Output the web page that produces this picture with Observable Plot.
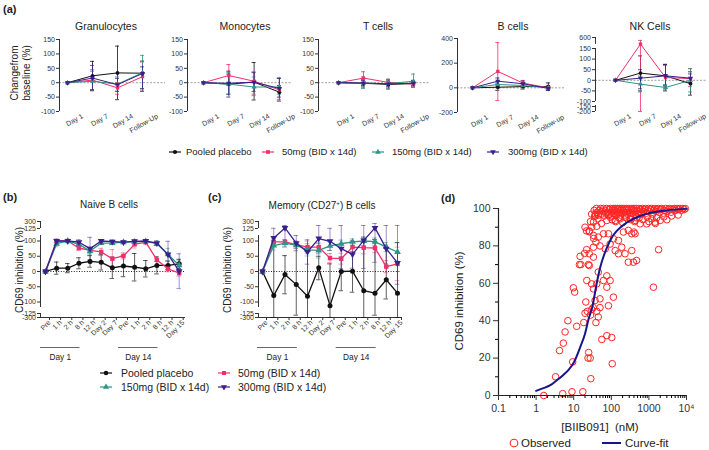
<!DOCTYPE html>
<html><head><meta charset="utf-8">
<script src="https://cdn.jsdelivr.net/npm/d3@7"></script>
<script src="https://cdn.jsdelivr.net/npm/@observablehq/plot@0.6"></script>
<style>
body{margin:0;background:#fff;font-family:"Liberation Sans",Arial,sans-serif;}
#root{position:relative;width:709px;height:450px;overflow:hidden;background:#fff;}
.lbl{position:absolute;white-space:pre;color:#222;line-height:1;}
</style></head><body><div id="root"></div>
<script>
// ---------- shared ----------
const groupNames = ["Pooled placebo","50mg (BID x 14d)","150mg (BID x 14d)","300mg (BID x 14d)"];
const groupColors = ["#111111","#f0306c","#2e9486","#3a1f8e"];

// ---------- panel (a) ----------
const aDaysUpper = ["Day 1","Day 7","Day 14","Follow-Up"];
const aDaysLower = ["Day 1","Day 7","Day 14","Follow-up"];
const aTitles = ["Granulocytes","Monocytes","T cells","B cells","NK Cells"];

const granMean = [[0,24,34,33],[0,9,-18,21],[0,5,-5,35],[0,16,-7,32]];
const granHi   = [[0,74,127,75],[0,40,0,72],[0,45,20,95],[0,60,15,55]];
const granLo   = [[0,-28,-59,-30],[0,-25,-40,-30],[0,-25,-30,-25],[0,-25,-30,-20]];

const monoMean = [[0,-5,2,-33],[0,25,5,-25],[0,-5,-15,-15],[0,-2,2,-20]];
const monoHi   = [[0,40,70,-10],[0,63,38,17],[0,35,20,15],[0,30,35,15]];
const monoLo   = [[0,-40,-60,-60],[0,-10,-40,-65],[0,-40,-45,-40],[0,-50,-30,-50]];

const tMean = [[0,-2,-6,-3],[0,16,1,-5],[0,-2,-3,5],[0,-1,-4,-2]];
const tHi   = [[0,10,10,8],[0,38,12,5],[0,20,12,30],[0,8,6,6]];
const tLo   = [[0,-15,-22,-15],[0,-5,-10,-15],[0,-20,-18,-15],[0,-10,-14,-10]];

const bMean = [[0,5,10,10],[0,133,38,0],[0,27,19,0],[0,54,33,-5]];
const bHi   = [[0,30,30,40],[0,367,60,20],[0,45,35,15],[0,80,55,10]];
const bLo   = [[0,-20,-10,-20],[0,-103,15,-20],[0,10,5,-15],[0,30,10,-20]];

const nkMean = [[0,34,21,-16],[0,330,13,8],[0,-18,-34,0],[0,10,21,10]];
const nkHi   = [[0,115,75,40],[0,480,70,55],[0,20,-20,55],[0,50,75,30]];
const nkLo   = [[0,-50,-50,-70],[0,-200,-30,-30],[0,-55,-45,-55],[0,-40,-25,-10]];

const ticksA = [150,100,50,0,-50,-100];
const ticksB = [400,200,0,-200];
const ticksNK = [600,150,100,50,0,-50,-100,-150,-200];

// ---------- panels (b) and (c) ----------
const bcTimes = ["Pre","1 h","2 h","8 h","12 h","Day 2","Day 7","Pre","1 h","2 h","8 h","12 h","Day 15"];
const bcGroups = [{label:"Day 1", first:0, last:4},{label:"Day 14", first:7, last:11}];
const bcTicks = [300,125,100,50,0,-50,-100,-125,-300];

const naiveMean = [
  [0,11,11,27,33,30,12,18,14,9,20,20,25],
  [0,100,100,77,69,64,42,51,89,96,38,9,-5],
  [0,91,100,89,67,93,93,96,97,99,91,56,20],
  [0,100,100,96,75,100,98,96,99,100,93,56,1]];
const naiveSD = [
  [0,20,15,18,19,25,35,35,45,27,28,14,15],
  [0,5,4,8,10,12,30,10,12,5,5,10,10],
  [0,10,4,6,12,5,5,4,4,3,6,20,15],
  [0,6,4,8,37,5,5,4,4,3,8,43,57]];

const memMean = [
  [0,-79,-10,-43,-81,12,-112,0,1,-63,-71,-27,-71],
  [0,97,97,88,80,80,44,42,80,78,77,16,25],
  [0,85,93,86,71,69,84,91,97,100,98,80,64],
  [0,110,140,93,64,108,99,75,56,102,140,75,28]];
const memHi = [
  [0,100,52,91,80,50,25,47,64,110,105,86,95],
  [0,107,105,100,100,92,59,60,95,98,92,36,80],
  [0,100,103,96,91,94,99,103,107,115,110,95,94],
  [0,130,200,118,104,200,129,200,101,200,250,200,200]];
const memLo = [
  [0,-300,-73,-200,-300,-27,-300,-63,-68,-300,-200,-90,-300],
  [0,87,89,76,60,68,29,24,65,58,62,-4,-30],
  [0,70,83,76,51,44,69,79,87,85,86,65,34],
  [0,90,80,68,24,58,69,10,11,10,30,25,-42]];

// ---------- panel (d) ----------
const observed = [
 [1.6,0],[5.1,1],[9,2],[17.5,2],[3.3,10],[9.4,18],[4.2,24],[5.3,28],[5.9,34],[7,40],[12,37],[18.5,39],
 [25,23],[24,20],[27.5,20],[28.5,9],[39,39],[56,30],[76,32],[103,31],[106,17],[23,45],[28,43],[30,46],
 [41,45],[45,42],[84,48],[50,47],[21,50],[33,47],[20,44],
 [9.8,57.6],[10.6,55.3],[22.3,61.5],[30,59.7],[33.5,57],[41,59.7],[45,66],[62,61.5],[76,57.9],[93,61.5],
 [114,52.6],[50,51.7],[37,50.8],[1320,57.9],[76,64],[14.8,74.4],[14.2,70],[24.6,70],[26,75.8],[33.5,79.3],
 [39,82],[50,80],[69,78.4],[93,81],[127,77.5],[155,75.8],[190,79.3],[232,75.8],[284,71.3],[350,77.5],
 [389,71.3],[470,72.2],[1810,78],[19.5,76],[22,78],[33.5,74],[15.5,70],[26,69.5],
 [26,87.6],[33.5,85.6],[45,84.7],[62,86.5],[84,86.5],[114,83.8],[155,82.9],[210,87.4],[284,88.3],
 [350,86.5],[400,87.4],[583,91.8],[875,91.8],[1450,92.7],[30,90],[41,90.5],[55,92],[76,93.6],[33.5,92.7],
 [44,94.5],[93,95.4],[127,93.6],[171,94.5],[232,95.4],[316,94.5],[430,93.6],[1200,94.5],[1990,93.6],
 [26,88],[34,84],[20,90],[22,88],[28,93],[38,97],[36,96],[430,86.5],[470,95],[1490,92],
 [105,94],[130,93],[160,95],[200,92.5],[250,95],[330,94],[420,93],[550,95],[700,94],[900,95.5],
 [1600,95],[2500,95.5],[4000,96],[6000,96.5],[3000,94],[1000,93],
 [30,97],[35,99],[38,96],[40,100],[42,98],[46,96.5],[48,99],[52,100],[55,97],[58,98.5],[62,100],[65,96],
 [68,99],[72,97.5],[75,100],[80,98],[85,96.5],[88,99.5],[92,97],[96,100],[100,98],[104,96],[108,99],
 [112,100],[118,97.5],[122,99],[128,100],[133,96.5],[138,98.5],[145,100],[150,97],[156,99.5],[162,98],
 [168,100],[175,96.5],[182,99],[190,100],[198,97.5],[206,99],[215,100],[225,98],[235,96.5],[245,99.5],
 [255,100],[268,97],[280,99],[292,100],[305,98],[320,96],[335,99.5],[350,100],[365,97.5],[380,99],
 [400,100],[420,98.5],[440,96.5],[460,100],[485,99],[510,97.5],[540,100],[570,98.5],[600,99.5],[640,97],
 [680,100],[720,98.5],[760,99.5],[810,100],[860,97.5],[910,99],[970,100],[1030,98.5],[1100,99.5],
 [1180,100],[1260,97],[1350,99],[1450,100],[1550,98.5],[1650,99.5],[1780,100],[1900,98],[2050,99.5],
 [2200,100],[2400,97.5],[2600,99],[2800,100],[3000,98.5],[3300,99.5],[3600,100],[3900,98],[4300,99.5],
 [4700,100],[5100,99],[5600,100],[6100,99.5],[6700,100],[7300,99],[8000,100],[8700,99.5],[9300,100]
];
const curveFit = [[1,2.5],[1.5,3.8],[2.4,5.5],[3.5,8],[5.3,11],[7.5,14],[10,17.5],[15,26],[20,33],[25,41],
 [31,47],[41,60],[50,68],[76,79],[100,84],[140,88],[260,92.5],[580,96],[1000,97.5],[3000,99],[10000,99.8]];
const dMajor = [0.1,1,10,100,1000,10000];
const dMajorLabels = ["0.1","1","10","100","1000","10⁴"];
const dMinor = [2,3,4,5,6,7,8,9].flatMap(k => [0.1,1,10,100,1000].map(p => k*p));
const dYTicks = [0,20,40,60,80,100];
const dYMinor = [10,30,50,70,90];

// ---------- helpers ----------
const W = 709, H = 450;
const root = document.getElementById("root");
const sqrt3 = Math.sqrt(3);
const triangleDown = {draw(ctx, size){ const y = -Math.sqrt(size/(sqrt3*3)); ctx.moveTo(0,-y*2); ctx.lineTo(-sqrt3*y, y); ctx.lineTo(sqrt3*y, y); ctx.closePath(); }};
const groupSymbols = ["circle","square","triangle",triangleDown];
const d3Symbols = [d3.symbolCircle, d3.symbolSquare, d3.symbolTriangle, triangleDown];

function addSvg(svg){ svg.style.position="absolute"; svg.style.left="0px"; svg.style.top="0px"; root.appendChild(svg); }
function label(html, x, y, {size=10, weight="normal", rotate=0, anchor="middle", color="#222"}={}){
  const d = document.createElement("div");
  d.className="lbl"; d.innerHTML = html;
  d.style.fontSize=size+"px"; d.style.fontWeight=weight; d.style.color=color;
  d.style.left=x+"px"; d.style.top=y+"px";
  const tx = anchor==="middle" ? "-50%" : anchor==="end" ? "-100%" : "0";
  d.style.transform = `translate(${tx},-50%)` + (rotate ? ` rotate(${rotate}deg)` : "");
  root.appendChild(d);
}
function legendMarker(gi, cx, cy, len, size){
  const ns="http://www.w3.org/2000/svg";
  const s=document.createElementNS(ns,"svg");
  s.setAttribute("width",24); s.setAttribute("height",12);
  s.style.position="absolute"; s.style.left=(cx-12)+"px"; s.style.top=(cy-6)+"px";
  const l=document.createElementNS(ns,"line");
  l.setAttribute("x1",12-len/2); l.setAttribute("x2",12+len/2); l.setAttribute("y1",6); l.setAttribute("y2",6);
  l.setAttribute("stroke",groupColors[gi]); l.setAttribute("stroke-width",1.2);
  const p=document.createElementNS(ns,"path");
  p.setAttribute("d", d3.symbol(d3Symbols[gi], size)());
  p.setAttribute("transform","translate(12,6)"); p.setAttribute("fill",groupColors[gi]);
  s.appendChild(l); s.appendChild(p); root.appendChild(s);
}
function rowsOf(mean, hi, lo){
  const rows=[];
  mean.forEach((m, g) => m.forEach((v, i) => rows.push({g, i, m: v, hi: hi[g][i], lo: lo[g][i]})));
  return rows;
}
// broken (piecewise) axis: values -> virtual linear units (height above page bottom)
function brokenTransform(domain, pixelRange){
  const s = d3.scaleLinear().domain(domain).range(pixelRange.map(p => H - p));
  return v => s(v);
}
// axis for a broken scale: tick positions are given in transformed units, labels are the data values
function brokenAxisY(ticks, tf, opts){
  const pos = ticks.map(tf);
  return Plot.axisY({...opts, ticks: pos, tickFormat: v => ticks[pos.findIndex(p => Math.abs(p - v) < 1e-6)]});
}

// ---------- panel (a) subplots ----------
const aConf = [
  {axisX:59, x0:67, step:25, right:165, labels:aDaysUpper, yDomain:[-100,150], yRange:[111,39], ticks:ticksA, segs:[[-100,150]], mean:granMean, hi:granHi, lo:granLo, tx:106},
  {axisX:187, x0:203, step:25.3, right:292, labels:aDaysUpper, yDomain:[-100,150], yRange:[111,39], ticks:ticksA, segs:[[-100,150]], mean:monoMean, hi:monoHi, lo:monoLo, tx:245},
  {axisX:318, x0:338, step:25, right:430, labels:aDaysUpper, yDomain:[-100,150], yRange:[111,39], ticks:ticksA, segs:[[-100,150]], mean:tMean, hi:tHi, lo:tLo, tx:378},
  {axisX:457, x0:472, step:25.3, right:565, labels:aDaysLower, yDomain:[-200,400], yRange:[112,38], ticks:ticksB, segs:[[-200,400]], mean:bMean, hi:bHi, lo:bLo, tx:513},
  {axisX:595, x0:615, step:25, right:707, labels:aDaysLower, yDomain:[-200,-100,150,600], yRange:[111,101,48,37], ticks:ticksNK, segs:[[-100,150],[-200,-140],[320,600]], mean:nkMean, hi:nkHi, lo:nkLo, tx:650}
];
aConf.forEach((c, k) => {
  const xd = [(c.axisX - c.x0)/c.step, (c.right - c.x0)/c.step];
  const rows = rowsOf(c.mean, c.hi, c.lo);
  const cap = 2/c.step;
  const tf = brokenTransform(c.yDomain, c.yRange);
  const marks = [
    Plot.ruleY([0], {stroke:"#888", strokeDasharray:"2,1.5", strokeWidth:0.8}),
    Plot.ruleX(c.segs, {x: xd[0], y1: d => d[0], y2: d => d[1], stroke:"#333", strokeWidth:1}),
    brokenAxisY(c.ticks, tf, {tickSize: 3, tickPadding: 1.5, fontSize: 7, label: null, color:"#333"}),
    Plot.axisX({ticks: [0,1,2,3], tickFormat: i => c.labels[i], tickRotate: -30, tickSize: 0, tickPadding: 2, fontSize: 7, label: null, dx: 15, dy: 2, color:"#333"})
  ];
  [0,1,2,3].forEach(g => {
    const e = rows.filter(r => r.g === g && r.i > 0);
    const col = groupColors[g];
    marks.push(Plot.ruleX(e, {x:"i", y1:"lo", y2:"hi", stroke: col, strokeWidth: 0.8}));
    marks.push(Plot.ruleY(e, {y:"hi", x1: r => r.i - cap, x2: r => r.i + cap, stroke: col, strokeWidth: 0.8}));
    marks.push(Plot.ruleY(e, {y:"lo", x1: r => r.i - cap, x2: r => r.i + cap, stroke: col, strokeWidth: 0.8}));
  });
  [0,1,2,3].forEach(g => {
    const d = rows.filter(r => r.g === g);
    marks.push(Plot.line(d, {x:"i", y:"m", stroke: groupColors[g], strokeWidth: 1}));
    marks.push(Plot.dot(d, {x:"i", y:"m", r: 1.9, symbol: groupSymbols[g], fill: groupColors[g]}));
  });
  const top = c.yRange[c.yRange.length-1], bottom = c.yRange[0];
  addSvg(Plot.plot({
    width: W, height: H,
    marginLeft: c.axisX, marginRight: W - c.right, marginTop: top, marginBottom: H - bottom,
    x: {domain: xd},
    y: {transform: tf, domain: [H - bottom, H - top]},
    style: {background: "transparent", overflow: "visible", fontFamily: "Liberation Sans, Arial, sans-serif", fontSize: "7px"},
    marks
  }));
  label(aTitles[k], c.tx, 26, {size: 10.5});
});
label("(a)", 3, 9, {size: 11, weight: "bold", anchor: "start"});
label("Changefrom", 15, 73, {size: 10, rotate: -90});
label("baseline (%)", 27, 73, {size: 10, rotate: -90});
// legend (a)
[[175,186],[268,282],[378,392],[493,508]].forEach(([mx, tx], g) => {
  legendMarker(g, mx, 152, 12, 14);
  label(groupNames[g], tx, 152, {size: 9.5, anchor: "start"});
});

// ---------- panels (b) and (c) ----------
const bcConf = [
  {axisX:40, x0:45, step:11.14, right:185, mean:naiveMean, hi:naiveMean.map((m,g)=>m.map((v,i)=>v+naiveSD[g][i])), lo:naiveMean.map((m,g)=>m.map((v,i)=>v-naiveSD[g][i])), title:"Naive B cells", tx:109, ylx:20},
  {axisX:258, x0:262, step:11.25, right:401, mean:memMean, hi:memHi, lo:memLo, title:"Memory (CD27<sup style='font-size:6px;vertical-align:4px'>+</sup>) B cells", tx:322, ylx:228}
];
const bcDomain = [-300,-125,-118,118,125,300];
const bcRange = [317,313,307,235,228,221];
const bcSegs = [[-300,-125],[-118,118],[125,300]];
const bcTf = brokenTransform(bcDomain, bcRange);
bcConf.forEach(c => {
  const xd = [(c.axisX - c.x0)/c.step, (c.right - c.x0)/c.step];
  const rows = rowsOf(c.mean, c.hi, c.lo);
  const cap = 2.3/c.step;
  const marks = [
    Plot.ruleY([0], {stroke:"#222", strokeDasharray:"1,1.6", strokeWidth:1}),
    Plot.ruleY([-300], {stroke:"#333", strokeWidth:1}),
    Plot.ruleX(bcSegs, {x: xd[0], y1: d => d[0], y2: d => d[1], stroke:"#333", strokeWidth:1}),
    brokenAxisY(bcTicks, bcTf, {tickSize: 3, tickPadding: 1.5, fontSize: 7, label: null, color:"#333"}),
    Plot.axisX({ticks: d3.range(bcTimes.length), tickFormat: i => bcTimes[i], tickRotate: -45, tickSize: 3, tickPadding: 1, fontSize: 7, label: null, dx: 4, color:"#333"}),
    Plot.ruleY(bcGroups, {y: () => -300, x1: d => d.first - 0.45, x2: d => d.last - 0.9, dy: 30, stroke:"#555", strokeWidth: 0.9}),
    Plot.text(bcGroups, {y: () => -300, x: d => (d.first + d.last)/2 - 0.67, dy: 40, text: "label", fontSize: 8.3, fill:"#222"})
  ];
  [0,1,2,3].forEach(g => {
    const e = rows.filter(r => r.g === g && r.i > 0);
    const col = groupColors[g];
    const op = g === 0 ? 0.75 : 0.55;
    marks.push(Plot.ruleX(e, {x:"i", y1:"lo", y2:"hi", stroke: col, strokeWidth: 0.9, strokeOpacity: op}));
    marks.push(Plot.ruleY(e, {y:"hi", x1: r => r.i - cap, x2: r => r.i + cap, stroke: col, strokeWidth: 0.9, strokeOpacity: op}));
    marks.push(Plot.ruleY(e, {y:"lo", x1: r => r.i - cap, x2: r => r.i + cap, stroke: col, strokeWidth: 0.9, strokeOpacity: op}));
  });
  [0,1,2,3].forEach(g => {
    const d = rows.filter(r => r.g === g);
    marks.push(Plot.line(d, {x:"i", y:"m", stroke: groupColors[g], strokeWidth: 1.3}));
    marks.push(Plot.dot(d, {x:"i", y:"m", r: 2.5, symbol: groupSymbols[g], fill: groupColors[g]}));
  });
  addSvg(Plot.plot({
    width: W, height: H,
    marginLeft: c.axisX, marginRight: W - c.right, marginTop: 221, marginBottom: H - 317,
    x: {domain: xd},
    y: {transform: bcTf, domain: [H - 317, H - 221]},
    style: {background: "transparent", overflow: "visible", fontFamily: "Liberation Sans, Arial, sans-serif", fontSize: "7px"},
    marks
  }));
  label(c.title, c.tx, 205, {size: 10});
  label("CD69 inhibition (%)", c.ylx, 270, {size: 10, rotate: -90});
});
label("(b)", 3, 197, {size: 11, weight: "bold", anchor: "start"});
label("(c)", 208, 197, {size: 11, weight: "bold", anchor: "start"});
[[106,373,121],[224,373,238],[106,387,121],[224,387,238]].forEach(([mx, my, tx], g) => {
  legendMarker(g, mx, my, 12, 16);
  label(groupNames[g], tx, my, {size: 10.5, anchor: "start"});
});

// ---------- panel (d) ----------
addSvg(Plot.plot({
  width: W, height: H,
  marginLeft: 498, marginRight: W - 686, marginTop: 208, marginBottom: H - 395,
  x: {type: "log", domain: [0.1, 10000]}, y: {domain: [0, 100]},
  style: {background: "transparent", overflow: "visible", fontFamily: "Liberation Sans, Arial, sans-serif", fontSize: "10.5px"},
  marks: [
    Plot.dot(observed, {x: d => d[0], y: d => d[1], r: 3.3, stroke: "#ff2424", strokeWidth: 1, fill: "none"}),
    Plot.line(curveFit, {x: d => d[0], y: d => d[1], stroke: "#16168c", strokeWidth: 2, curve: "monotone-x"}),
    Plot.ruleX([0.1], {stroke: "#222", strokeWidth: 1.2}),
    Plot.ruleY([0], {stroke: "#222", strokeWidth: 1.2}),
    Plot.axisY({ticks: dYTicks, tickSize: 5, tickPadding: 3, fontSize: 10.5, label: null, color: "#333"}),
    Plot.axisY({ticks: dYMinor, tickSize: 3, tickFormat: () => "", label: null}),
    Plot.axisX({ticks: dMajor, tickFormat: d => dMajorLabels[dMajor.indexOf(d)], tickSize: 5, tickPadding: 4, fontSize: 10.5, label: null, color: "#333"}),
    Plot.axisX({ticks: dMinor, tickSize: 3, tickFormat: () => "", label: null})
  ]
}));
label("(d)", 441, 198, {size: 11, weight: "bold", anchor: "start"});
label("CD69 inhibition (%)", 460, 301, {size: 11.5, rotate: -90});
label("[BIIB091]  (nM)", 600, 428, {size: 11.5});
// legend (d)
(function(){
  const ns="http://www.w3.org/2000/svg";
  const s=document.createElementNS(ns,"svg");
  s.setAttribute("width",709); s.setAttribute("height",450);
  s.style.position="absolute"; s.style.left="0"; s.style.top="0";
  const c=document.createElementNS(ns,"circle");
  c.setAttribute("cx",514); c.setAttribute("cy",443); c.setAttribute("r",3.8);
  c.setAttribute("fill","none"); c.setAttribute("stroke","#ff2424"); c.setAttribute("stroke-width",1.1);
  const l=document.createElementNS(ns,"line");
  l.setAttribute("x1",602); l.setAttribute("x2",621); l.setAttribute("y1",443); l.setAttribute("y2",443);
  l.setAttribute("stroke","#16168c"); l.setAttribute("stroke-width",2);
  s.appendChild(c); s.appendChild(l); root.appendChild(s);
})();
label("Observed", 521, 444, {size: 11.5, anchor: "start"});
label("Curve-fit", 625, 444, {size: 11.5, anchor: "start"});
</script></body></html>
